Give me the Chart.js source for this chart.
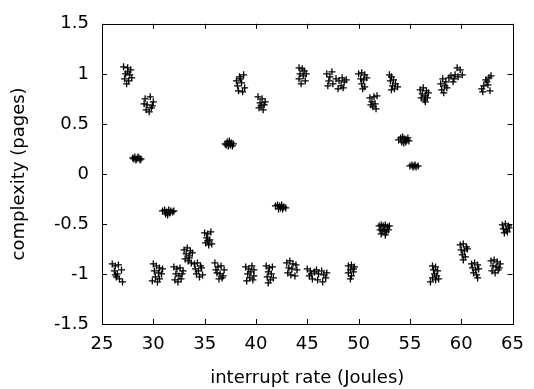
<!DOCTYPE html>
<html>
<head>
<meta charset="utf-8">
<title>interrupt rate vs complexity</title>
<script src="https://cdn.jsdelivr.net/npm/chart.js"></script>
<style>
  html, body { margin: 0; padding: 0; background: #fff; }
  canvas { display: block; }
</style>
</head>
<body>
<canvas id="scatterChart" width="534" height="389"></canvas>
<script>
'use strict';

// Eixos
const xTicks = [25, 30, 35, 40, 45, 50, 55, 60, 65];
const yTicks = [-1.5, -1, -0.5, 0, 0.5, 1, 1.5];

// Pontos: [interrupt rate, complexity]
// grupos de cima (y > 0)
const upperPoints = [
    [27.1, 1.07], [27.5, 1.06], [27.8, 1.04], [27.3, 1.0], [27.7, 0.99], [27.2, 0.95], [27.6, 0.93], [27.9, 0.96], [27.4, 0.9], [27.5, 1.02],
    [29.2, 0.75], [29.7, 0.77], [30.0, 0.72], [29.4, 0.69], [29.8, 0.66], [29.3, 0.64], [29.6, 0.62], [29.1, 0.7], [29.9, 0.68],
    [28.0, 0.16], [28.2, 0.17], [28.4, 0.15], [28.6, 0.16], [28.8, 0.15], [28.3, 0.14], [28.5, 0.17], [28.7, 0.14], [28.1, 0.15],
    [38.1, 0.93], [38.4, 0.97], [38.8, 0.99], [38.2, 0.88], [38.6, 0.91], [38.9, 0.86], [38.3, 0.83], [38.7, 0.82], [38.5, 0.95],
    [40.2, 0.77], [40.6, 0.75], [40.4, 0.71], [40.8, 0.69], [40.3, 0.66], [40.7, 0.64], [40.5, 0.68], [40.9, 0.72],
    [37.0, 0.3], [37.2, 0.32], [37.4, 0.33], [37.6, 0.31], [37.8, 0.3], [37.3, 0.28], [37.5, 0.29], [37.7, 0.28], [37.1, 0.29],
    [44.2, 1.06], [44.5, 1.05], [44.7, 1.03], [44.3, 1.0], [44.6, 0.98], [44.2, 0.95], [44.8, 0.93], [44.4, 0.9], [44.9, 1.0],
    [46.9, 1.0], [47.2, 0.97], [47.4, 1.02], [47.1, 0.93], [47.5, 0.9], [47.0, 0.88], [47.8, 0.95],
    [48.1, 0.93], [48.4, 0.96], [48.6, 0.92], [48.3, 0.88], [48.0, 0.85], [48.8, 0.94], [48.5, 0.86],
    [50.0, 1.0], [50.3, 1.01], [50.6, 0.99], [50.2, 0.95], [50.5, 0.94], [50.8, 0.96], [50.3, 0.9], [50.6, 0.87], [50.4, 0.85],
    [51.1, 0.76], [51.5, 0.77], [51.8, 0.78], [51.3, 0.72], [51.6, 0.7], [51.4, 0.67], [51.7, 0.65], [51.2, 0.69],
    [53.0, 0.99], [53.2, 0.97], [53.1, 0.93], [53.4, 0.94], [53.6, 0.9], [53.3, 0.88], [53.8, 0.87], [53.5, 0.85], [53.2, 0.84],
    [53.9, 0.34], [54.1, 0.36], [54.3, 0.37], [54.5, 0.35], [54.7, 0.34], [54.9, 0.33], [54.2, 0.32], [54.4, 0.31], [54.6, 0.32], [54.8, 0.36],
    [55.0, 0.08], [55.2, 0.09], [55.4, 0.08], [55.6, 0.07], [55.8, 0.08], [55.3, 0.07], [55.5, 0.09],
    [56.0, 0.84], [56.3, 0.86], [56.6, 0.83], [56.2, 0.8], [56.5, 0.78], [56.8, 0.81], [56.1, 0.76], [56.4, 0.74], [56.7, 0.76], [56.5, 0.72],
    [58.0, 0.9], [58.2, 0.95], [58.4, 0.88], [58.1, 0.84], [58.5, 0.92], [58.8, 0.96], [58.6, 0.86], [59.0, 0.98],
    [59.2, 0.92], [59.4, 0.99], [59.6, 1.06], [59.9, 1.04], [59.7, 0.97], [60.1, 0.99], [59.3, 0.95], [58.3, 0.81],
    [62.0, 0.85], [62.2, 0.88], [62.1, 0.82], [62.5, 0.92], [62.7, 0.96], [62.9, 0.98], [62.6, 0.89], [62.8, 0.83], [62.4, 0.94],
];

// grupos de baixo (y < 0)
const lowerPoints = [
    [26.0, -0.9], [26.3, -0.92], [26.6, -0.91], [26.9, -0.96], [26.2, -0.97], [26.5, -1.0], [26.4, -1.03], [26.7, -1.05], [27.0, -1.08], [26.3, -1.01],
    [30.0, -0.9], [30.3, -0.92], [30.6, -0.94], [30.1, -0.97], [30.5, -0.99], [30.8, -1.0], [30.2, -1.03], [30.6, -1.05], [29.9, -1.07], [30.4, -1.08], [30.9, -0.95],
    [30.9, -0.37], [31.1, -0.36], [31.3, -0.38], [31.5, -0.36], [31.7, -0.37], [31.9, -0.38], [31.2, -0.4], [31.4, -0.41], [31.6, -0.39], [32.0, -0.37],
    [32.0, -0.93], [32.3, -0.95], [32.6, -0.94], [32.9, -0.97], [32.2, -1.0], [32.5, -1.02], [32.8, -1.0], [32.1, -1.06], [32.4, -1.08], [32.7, -1.05],
    [33.0, -0.76], [33.3, -0.74], [33.6, -0.77], [33.2, -0.8], [33.5, -0.82], [33.8, -0.79], [33.1, -0.85], [33.4, -0.87], [33.7, -0.89], [33.5, -0.84],
    [34.0, -0.9], [34.3, -0.89], [34.6, -0.92], [34.1, -0.95], [34.4, -0.97], [34.7, -0.94], [34.2, -1.0], [34.5, -1.03], [34.8, -1.01],
    [35.0, -0.59], [35.3, -0.6], [35.6, -0.58], [35.2, -0.64], [35.5, -0.66], [35.1, -0.69], [35.4, -0.71], [35.7, -0.7], [35.3, -0.67],
    [36.0, -0.89], [36.3, -0.93], [36.6, -0.92], [36.9, -0.96], [36.2, -0.99], [36.5, -1.0], [36.8, -1.02], [36.4, -1.05], [36.7, -1.04], [36.1, -0.96],
    [39.0, -0.93], [39.3, -0.95], [39.6, -0.92], [39.8, -0.96], [39.2, -1.0], [39.5, -0.98], [39.8, -1.02], [39.1, -1.07], [39.4, -1.04], [39.7, -1.06],
    [41.0, -0.92], [41.3, -0.94], [41.6, -0.93], [41.2, -0.98], [41.5, -1.0], [41.1, -1.03], [41.4, -1.06], [41.7, -1.04], [41.2, -1.09],
    [41.9, -0.32], [42.1, -0.31], [42.3, -0.32], [42.5, -0.31], [42.7, -0.33], [42.9, -0.34], [42.2, -0.35], [42.4, -0.34], [42.6, -0.35],
    [43.0, -0.89], [43.3, -0.87], [43.6, -0.9], [43.9, -0.91], [43.2, -0.94], [43.5, -0.95], [43.1, -0.99], [43.4, -1.01], [43.8, -1.02], [44.0, -0.96],
    [45.0, -0.95], [45.3, -0.97], [45.2, -1.02], [45.5, -1.05], [45.7, -0.98], [45.9, -0.96], [46.1, -1.0],
    [46.0, -1.06], [46.4, -0.97], [46.6, -1.01], [46.8, -1.04], [46.5, -1.08], [46.9, -0.99], [45.4, -1.0],
    [49.0, -0.92], [49.3, -0.91], [49.6, -0.93], [49.2, -0.96], [49.5, -0.95], [49.0, -0.99], [49.3, -1.02], [49.2, -1.05], [49.5, -0.98],
    [52.0, -0.52], [52.2, -0.51], [52.4, -0.52], [52.6, -0.51], [52.8, -0.53], [53.0, -0.52], [52.1, -0.56],
    [52.3, -0.57], [52.5, -0.56], [52.7, -0.58], [52.9, -0.56], [52.2, -0.6], [52.6, -0.61],
    [57.2, -0.92], [57.5, -0.93], [57.3, -0.96], [57.7, -0.97], [57.4, -1.0], [57.6, -1.02], [57.2, -1.04], [57.5, -1.06], [57.0, -1.08], [57.8, -1.05],
    [59.9, -0.71], [60.2, -0.7], [60.5, -0.73], [60.0, -0.76], [60.3, -0.77], [60.6, -0.75], [60.1, -0.81], [60.4, -0.83], [60.2, -0.86],
    [61.0, -0.9], [61.3, -0.89], [61.6, -0.91], [61.1, -0.94], [61.4, -0.96], [61.7, -0.95], [61.2, -0.99], [61.5, -1.01], [61.6, -1.04],
    [62.9, -0.87], [63.2, -0.86], [63.5, -0.88], [63.8, -0.9], [63.1, -0.92], [63.4, -0.93], [63.7, -0.94], [63.0, -0.97], [63.3, -0.99], [63.6, -0.96],
    [64.0, -0.51], [64.3, -0.5], [64.6, -0.52], [64.1, -0.55], [64.4, -0.56], [64.7, -0.54], [64.2, -0.59], [64.5, -0.58],
];

const fonte = { family: 'DejaVu Sans', size: 18, lineHeight: 1.2 };

// Moldura com marcas para dentro nos quatro lados (estilo gnuplot)
const molduraPlugin = {
    id: 'moldura',
    afterDraw(chart) {
        const { ctx, chartArea: a, scales } = chart;
        const tam = 5;
        ctx.save();
        ctx.strokeStyle = '#000';
        ctx.lineWidth = 1;
        ctx.beginPath();
        xTicks.forEach((v) => {
            const px = Math.round(scales.x.getPixelForValue(v)) + 0.5;
            ctx.moveTo(px, a.bottom);
            ctx.lineTo(px, a.bottom - tam);
            ctx.moveTo(px, a.top);
            ctx.lineTo(px, a.top + tam);
        });
        yTicks.forEach((v) => {
            const py = Math.round(scales.y.getPixelForValue(v)) + 0.5;
            ctx.moveTo(a.left, py);
            ctx.lineTo(a.left + tam, py);
            ctx.moveTo(a.right, py);
            ctx.lineTo(a.right - tam, py);
        });
        ctx.stroke();
        ctx.strokeRect(Math.round(a.left) + 0.5, Math.round(a.top) + 0.5,
            Math.round(a.right - a.left), Math.round(a.bottom - a.top));
        ctx.restore();
    },
};

const ctx = document.getElementById('scatterChart').getContext('2d');
new Chart(ctx, {
    type: 'scatter',
    data: {
        datasets: [
            {
                data: upperPoints.concat(lowerPoints).map(([x, y]) => ({ x: x, y: y })),
                pointStyle: 'cross',
                pointRadius: 3.5,
                pointBorderWidth: 1.3,
                borderColor: '#000',
                backgroundColor: '#000',
            },
        ],
    },
    options: {
        responsive: false,
        animation: false,
        devicePixelRatio: 1,
        layout: {
            padding: { top: 13, right: 14, bottom: 0, left: 0 },
        },
        plugins: {
            legend: { display: false },
            tooltip: { enabled: false },
        },
        scales: {
            x: {
                type: 'linear',
                min: 25,
                max: 65,
                afterBuildTicks: (s) => { s.ticks = xTicks.map((v) => ({ value: v })); },
                afterFit: (s) => { s.height = 65; },
                grid: { display: false, drawTicks: false },
                border: { display: false },
                ticks: {
                    color: '#000',
                    font: fonte,
                    padding: 10,
                    maxRotation: 0,
                    callback: (v) => String(v),
                },
                title: {
                    display: true,
                    text: 'interrupt rate (Joules)',
                    color: '#000',
                    font: fonte,
                    padding: { top: 0, bottom: 0 },
                },
            },
            y: {
                type: 'linear',
                min: -1.5,
                max: 1.5,
                afterBuildTicks: (s) => { s.ticks = yTicks.map((v) => ({ value: v })); },
                afterFit: (s) => { s.width = 102; },
                grid: { display: false, drawTicks: false },
                border: { display: false },
                ticks: {
                    color: '#000',
                    font: fonte,
                    padding: 13,
                    callback: (v) => String(v),
                },
                title: {
                    display: true,
                    text: 'complexity (pages)',
                    color: '#000',
                    font: fonte,
                    padding: { top: 9, bottom: 0 },
                },
            },
        },
    },
    plugins: [molduraPlugin],
});
</script>
</body>
</html>
